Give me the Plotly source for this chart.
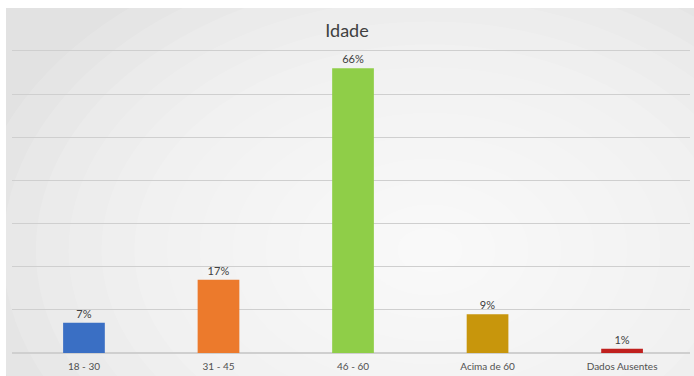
import plotly.graph_objects as go

categories = ["18 - 30", "31 - 45", "46 - 60", "Acima de 60", "Dados Ausentes"]
values = [7, 17, 66, 9, 1]
labels = ["7%", "17%", "66%", "9%", "1%"]
colors = ["#3a6fc4", "#ec7a2c", "#8fce48", "#c8960c", "#c0201e"]

W, H = 694, 376
L, R, T, B = 12, 4, 47, 23
pw, ph = W - L - R, H - T - B

def px(x):
    return (x - L) / pw

def py(y):
    return (H - B - y) / ph

fig = go.Figure(go.Bar(
    x=categories, y=values, marker_color=colors, marker_line_width=0,
    text=labels, textposition="outside", cliponaxis=False,
    textfont=dict(size=11, color="#404040", family="Lato"),
    width=0.31,
))

shapes = [dict(type="rect", xref="paper", yref="paper", layer="below",
               x0=px(6), x1=px(W), y0=py(H), y1=py(8),
               fillcolor="#e2e2e2", line_width=0)]
cx, cy = 430, 250
n = 14
for i in range(n):
    f = 1 - i / n
    rx, ry = 460 * f, 320 * f
    shapes.append(dict(type="circle", xref="paper", yref="paper", layer="below",
                       x0=px(cx - rx), x1=px(cx + rx), y0=py(cy + ry), y1=py(cy - ry),
                       fillcolor="white", opacity=0.13, line_width=0))
shapes.append(dict(type="rect", xref="paper", yref="paper", layer="below",
                   x0=px(0), x1=px(W), y0=py(8), y1=py(0),
                   fillcolor="white", line_width=0))
shapes.append(dict(type="rect", xref="paper", yref="paper", layer="below",
                   x0=px(0), x1=px(6), y0=py(H), y1=py(0),
                   fillcolor="white", line_width=0))

fig.update_layout(
    width=W, height=H,
    margin=dict(l=L, r=R, t=T, b=B),
    paper_bgcolor="white",
    plot_bgcolor="rgba(0,0,0,0)",
    shapes=shapes,
    title=dict(text="Idade", x=0.5, xref="container", xanchor="center",
               y=1 - 31 / H, yref="container", yanchor="middle",
               font=dict(size=18, color="#404040", family="Lato")),
    showlegend=False,
    bargap=0.69,
    xaxis=dict(showgrid=False, showline=False, ticks="", ticklabelstandoff=6,
               range=[-0.535, 4.505],
               tickfont=dict(size=10, color="#505050", family="Lato")),
    yaxis=dict(range=[0, 70.9], dtick=10, showticklabels=False, showgrid=True,
               gridcolor="#cfcfcf", gridwidth=1, zeroline=True, zerolinecolor="#cfcfcf",
               showline=False, ticks=""),
)

fig.write_html("out.html")
